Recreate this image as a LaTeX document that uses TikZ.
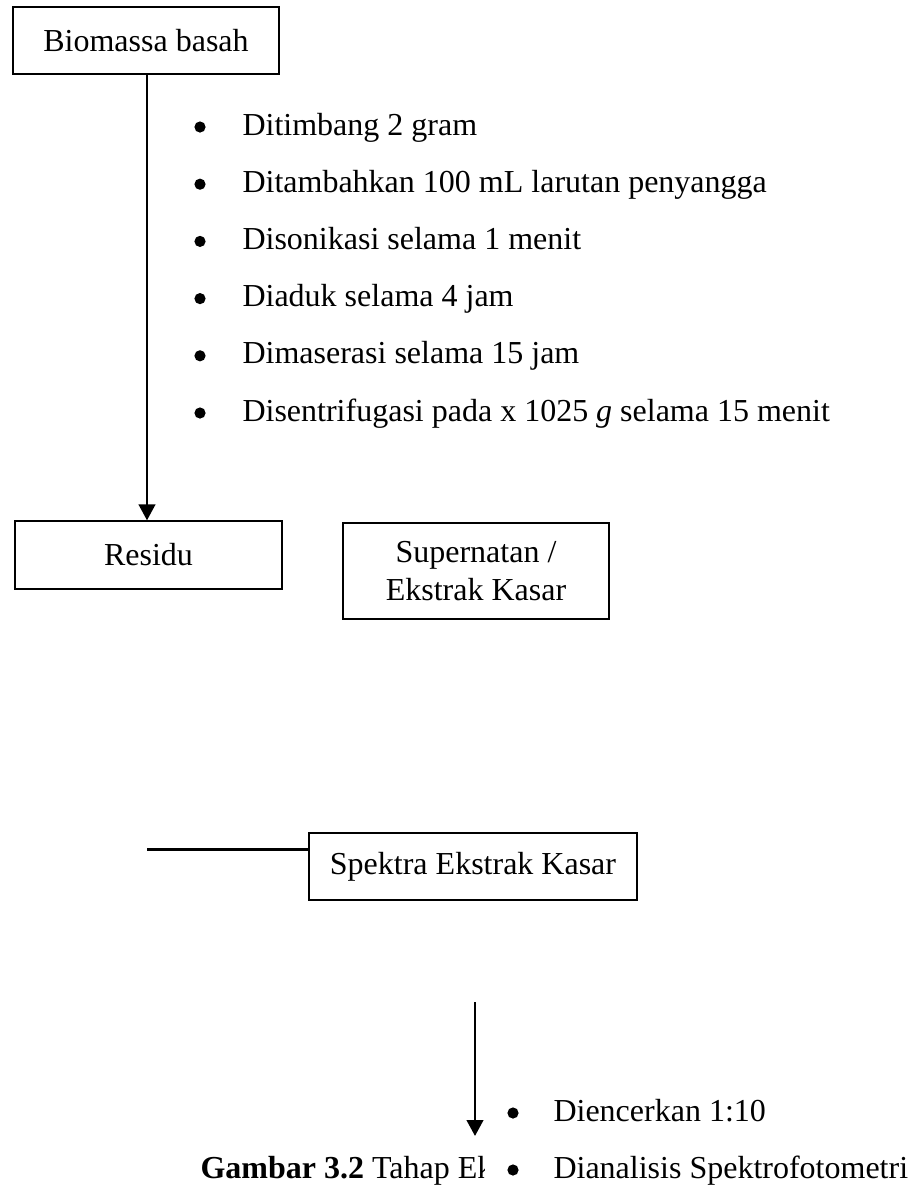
\documentclass[tikz,border=0pt]{standalone}
\usepackage{fontspec}
\setmainfont{Liberation Serif}
\usetikzlibrary{arrows.meta}

\begin{document}
\begin{tikzpicture}[x=0.375pt,y=-0.375pt,
		every node/.style={font=\fontsize{12pt}{14.25pt}\selectfont},
		kotak/.style={draw,line width=0.5pt,inner sep=0pt,align=center},
		panah/.style={line width=1pt,-{Triangle[length=6pt,width=6.2pt]}},
		poin/.style={inner sep=0pt,anchor=base west}]
				
				% page size
				\useasboundingbox (0,0) rectangle (911,1186);
				
				% --- Boxes ---
				\node[kotak, minimum width=99.75pt, minimum height=25.1pt] (bio) at (146,40.5) {Biomassa basah};
				\node[kotak, minimum width=100.1pt, minimum height=25.5pt] (res) at (148.5,555) {Residu};
				\node[kotak, minimum width=99.75pt, minimum height=36pt] (sup) at (476,571) {Supernatan /\\Ekstrak Kasar};
				\node[kotak, minimum width=123pt, minimum height=25.1pt] (spk) at (473,866.5) {Spektra Ekstrak Kasar};
				
				% --- Extraction steps ---
				\foreach \txt [count=\i] in {Ditimbang 2 gram,
					Ditambahkan 100 mL larutan penyangga,
					Disonikasi selama 1 menit,
					Diaduk selama 4 jam,
					Dimaserasi selama 15 jam,
					Disentrifugasi pada x 1025 \textit{g} selama 15 menit} {
					
					\pgfmathsetmacro{\yy}{127 + 57.2*(\i-1)}
					\fill (200,\yy) circle (5.6);
					\node[poin] (ekstrak\i) at (242,\yy+8) {\txt};
				}
				
				% --- Main arrow ---
				\draw[panah] (bio.south -| 147,0) -- (res.north -| 147,0);
				
				% --- Line to spectra box ---
				\coordinate (kiri) at (147,849.5);
				\draw[line width=1pt] (kiri) -- (kiri -| spk.west);
				
				% --- Short arrow ---
				\coordinate (atas) at (475,1002);
				\coordinate (bawah) at (475,1136);
				\draw[panah] (atas) -- (bawah);
				
				% --- Caption (cut off) ---
				\begin{scope}
					\clip (0,1130) rectangle (484,1186);
					\node[poin] (judul) at (200,1178) {\textbf{Gambar 3.2} Tahap Ek};
				\end{scope}
				
				% --- Analysis steps ---
				\foreach \txt [count=\i] in {Diencerkan 1:10, Dianalisis Spektrofotometri} {
					\pgfmathsetmacro{\yy}{1113 + 57*(\i-1)}
					\fill (513,\yy) circle (5.6);
					\node[poin] (analisis\i) at (553,\yy+8) {\txt};
				}
				
			\end{tikzpicture}
\end{document}
